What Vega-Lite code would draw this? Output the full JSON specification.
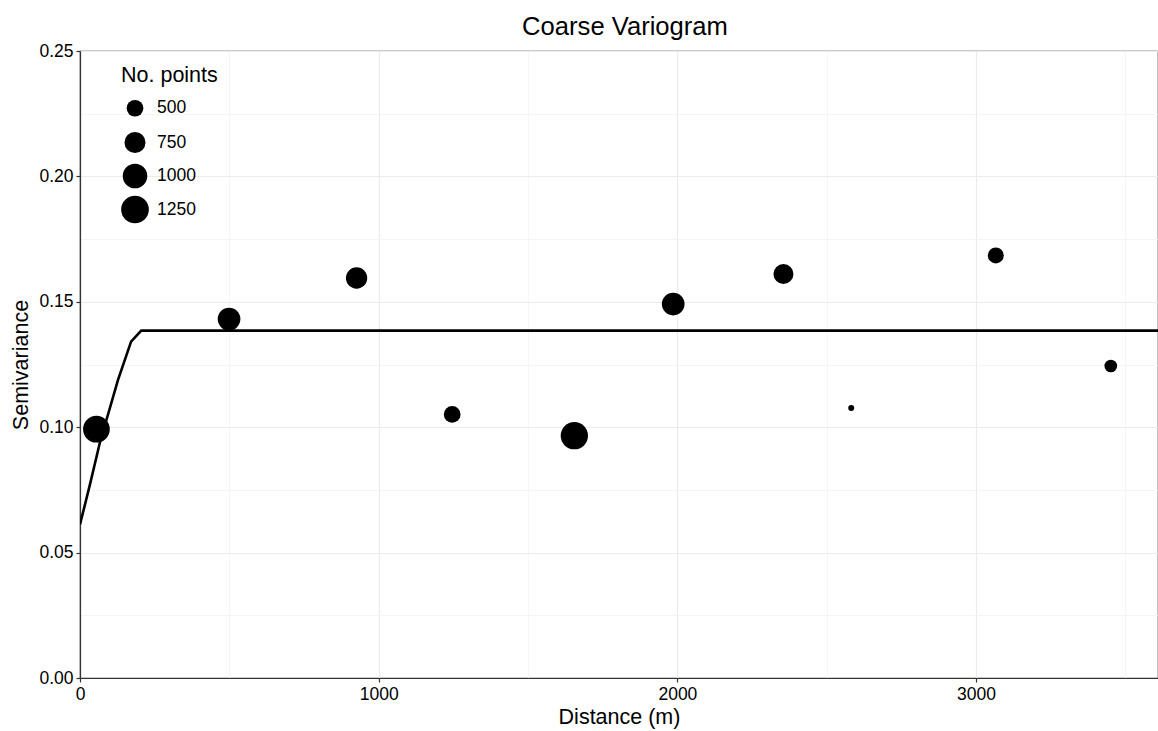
{
  "$schema": "https://vega.github.io/schema/vega-lite/v6.json",
  "width": 1078,
  "height": 627,
  "autosize": {"type": "none"},
  "padding": {"left": 80, "top": 51, "right": 0, "bottom": 53},
  "background": "white",
  "config": {
    "font": "Liberation Sans",
    "view": {"stroke": "#333333", "strokeWidth": 1.2}
  },
  "title": {
    "text": "Coarse Variogram",
    "fontSize": 25.6,
    "fontWeight": "normal",
    "color": "black",
    "anchor": "middle",
    "offset": 1,
    "dx": 6
  },
  "datasets": {
    "pts": [
      {"dist": 55, "gamma": 0.0992, "np": 1167},
      {"dist": 499, "gamma": 0.1431, "np": 863},
      {"dist": 926, "gamma": 0.1595, "np": 769},
      {"dist": 1246, "gamma": 0.1051, "np": 500},
      {"dist": 1655, "gamma": 0.0966, "np": 1216},
      {"dist": 1986, "gamma": 0.1491, "np": 863},
      {"dist": 2355, "gamma": 0.1611, "np": 686},
      {"dist": 2582, "gamma": 0.1077, "np": 127},
      {"dist": 3066, "gamma": 0.1685, "np": 465},
      {"dist": 3451, "gamma": 0.1244, "np": 319}
    ],
    "model": [
      {"dist": 0, "gamma": 0.0612},
      {"dist": 33, "gamma": 0.077},
      {"dist": 66, "gamma": 0.0936},
      {"dist": 127, "gamma": 0.1188},
      {"dist": 171, "gamma": 0.1341},
      {"dist": 205, "gamma": 0.1385},
      {"dist": 3609, "gamma": 0.1385}
    ]
  },
  "encoding": {
    "x": {
      "field": "dist",
      "type": "quantitative",
      "scale": {"domain": [0, 3609], "nice": false, "zero": false},
      "axis": {
        "title": "Distance (m)",
        "titleFontSize": 21.5,
        "titleFontWeight": "normal",
        "titleColor": "black",
        "titlePadding": 4,
        "values": [0, 500, 1000, 1500, 2000, 2500, 3000, 3500],
        "format": "d",
        "labelExpr": "datum.value % 1000 === 0 ? datum.label : ''",
        "labelFontSize": 17.5,
        "labelColor": "black",
        "labelFlush": false,
        "labelPadding": 3,
        "domainColor": "#333333",
        "domainWidth": 1.2,
        "tickColor": "#333333",
        "tickSize": 4,
        "tickWidth": 1.2,
        "tickOpacity": {"condition": {"test": "datum.value % 1000 === 0", "value": 1}, "value": 0},
        "grid": true,
        "gridColor": {"condition": {"test": "datum.value % 1000 === 0", "value": "#ebebeb"}, "value": "#f4f4f4"},
        "gridWidth": {"condition": {"test": "datum.value % 1000 === 0", "value": 1.2}, "value": 0.9}
      }
    },
    "y": {
      "field": "gamma",
      "type": "quantitative",
      "scale": {"domain": [0, 0.25], "nice": false, "zero": false},
      "axis": {
        "title": "Semivariance",
        "titleFontSize": 21.5,
        "titleFontWeight": "normal",
        "titleColor": "black",
        "titlePadding": 6,
        "values": [0, 0.025, 0.05, 0.075, 0.1, 0.125, 0.15, 0.175, 0.2, 0.225, 0.25],
        "format": ".2f",
        "labelExpr": "round(datum.value * 40) % 2 === 0 ? datum.label : ''",
        "labelFontSize": 17.5,
        "labelColor": "black",
        "labelFlush": false,
        "labelPadding": 3,
        "domainColor": "#333333",
        "domainWidth": 1.2,
        "tickColor": "#333333",
        "tickSize": 4,
        "tickWidth": 1.2,
        "tickOpacity": {"condition": {"test": "round(datum.value * 40) % 2 === 0", "value": 1}, "value": 0},
        "grid": true,
        "gridColor": {"condition": {"test": "round(datum.value * 40) % 2 === 0", "value": "#ebebeb"}, "value": "#f4f4f4"},
        "gridWidth": {"condition": {"test": "round(datum.value * 40) % 2 === 0", "value": 1.2}, "value": 0.9}
      }
    }
  },
  "layer": [
    {
      "data": {"name": "model"},
      "mark": {"type": "line", "color": "black", "strokeWidth": 2.6, "clip": true}
    },
    {
      "data": {"name": "pts"},
      "mark": {"type": "circle", "color": "black", "opacity": 1, "strokeWidth": 0},
      "encoding": {
        "size": {
          "field": "np",
          "type": "quantitative",
          "scale": {"domain": [500, 1250], "range": [279, 767], "zero": false, "nice": false},
          "legend": {
            "title": "No. points",
            "orient": "none",
            "legendX": 41,
            "legendY": 14,
            "values": [500, 750, 1000, 1250],
            "format": "d",
            "gridAlign": "all",
            "titleFontSize": 21.5,
            "titleFontWeight": "normal",
            "titleColor": "black",
            "titlePadding": 13,
            "labelFontSize": 17.5,
            "labelColor": "black",
            "labelOffset": 8,
            "symbolType": "circle",
            "symbolFillColor": "black",
            "symbolStrokeWidth": 0,
            "symbolOpacity": 1,
            "rowPadding": 4
          }
        }
      }
    }
  ]
}
